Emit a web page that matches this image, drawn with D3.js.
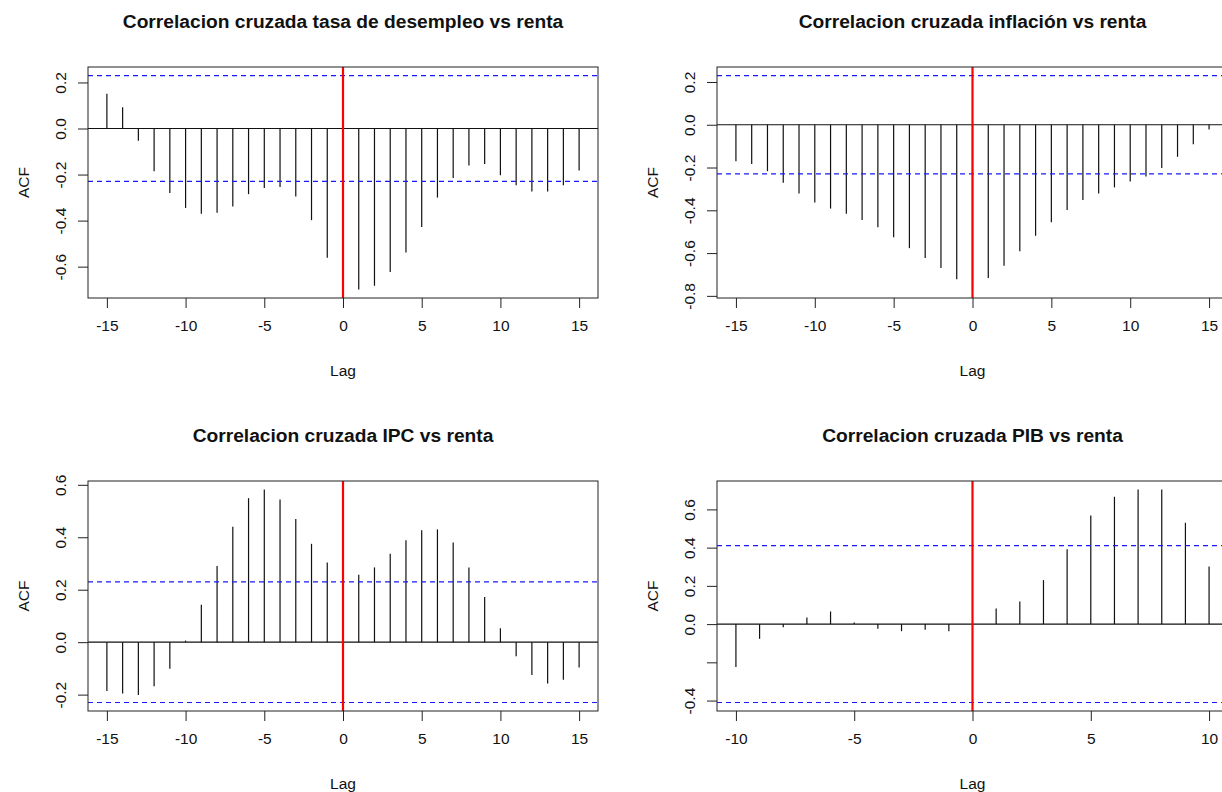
<!DOCTYPE html>
<html>
<head>
    <title>Correlacion cruzada vs renta</title>
    <script src="https://cdnjs.cloudflare.com/ajax/libs/d3/7.8.5/d3.min.js"></script>
    <style>
        body {
            margin: 0;
            background-color: white;
            font-family: "Liberation Sans", Arial, sans-serif;
        }
        svg {
            display: block;
            overflow: hidden;
        }
        .box {
            fill: none;
            stroke: #222;
            stroke-width: 1px;
        }
        .axis path {
            display: none;
        }
        .axis line {
            stroke: #222;
        }
        .axis text {
            font-family: "Liberation Sans", Arial, sans-serif;
            font-size: 15.5px;
            fill: #111;
        }
        .title {
            font-size: 19.2px;
            font-weight: bold;
            fill: #111;
            text-anchor: middle;
        }
        .label {
            font-size: 15.5px;
            fill: #111;
            text-anchor: middle;
        }
    </style>
</head>
<body>
    <div id="chart"></div>

    <script>
        // Lags
        const lags15 = [-15, -14, -13, -12, -11, -10, -9, -8, -7, -6, -5, -4, -3, -2, -1, 0,
                        1, 2, 3, 4, 5, 6, 7, 8, 9, 10, 11, 12, 13, 14, 15];
        const lags10 = [-10, -9, -8, -7, -6, -5, -4, -3, -2, -1, 0, 1, 2, 3, 4, 5, 6, 7, 8, 9, 10];

        // Cross-correlation values
        const desempleoRenta = [0.151, 0.092, -0.053, -0.186, -0.280, -0.345, -0.370, -0.366, -0.339, -0.285,
                                -0.258, -0.254, -0.295, -0.398, -0.561, -0.650, -0.699, -0.683, -0.623, -0.538,
                                -0.428, -0.300, -0.215, -0.161, -0.154, -0.203, -0.246, -0.274, -0.274, -0.246, -0.182];
        const inflacionRenta = [-0.171, -0.183, -0.217, -0.271, -0.322, -0.364, -0.392, -0.416, -0.445, -0.479,
                                -0.526, -0.577, -0.623, -0.670, -0.722, -0.770, -0.716, -0.659, -0.591, -0.519,
                                -0.456, -0.398, -0.352, -0.322, -0.293, -0.265, -0.242, -0.202, -0.150, -0.091, -0.022];
        const ipcRenta = [-0.186, -0.196, -0.201, -0.168, -0.101, 0.006, 0.143, 0.290, 0.440, 0.549,
                          0.582, 0.544, 0.470, 0.375, 0.304, 0.250, 0.257, 0.285, 0.337, 0.389,
                          0.427, 0.430, 0.380, 0.285, 0.172, 0.053, -0.054, -0.125, -0.158, -0.143, -0.097];
        const pibRenta = [-0.225, -0.077, -0.016, 0.035, 0.066, 0.009, -0.024, -0.037, -0.030, -0.037,
                          0.000, 0.082, 0.118, 0.230, 0.392, 0.568, 0.666, 0.704, 0.704, 0.530, 0.301];

        // Confidence bounds (blue dashed)
        const ciBounds = [0.23, 0.23, 0.23, 0.41];

        const titles = [
            "Correlacion cruzada tasa de desempleo vs renta",
            "Correlacion cruzada inflación vs renta",
            "Correlacion cruzada IPC vs renta",
            "Correlacion cruzada PIB vs renta"
        ];

        // Tick labels
        const xTicks15 = [-15, -10, -5, 0, 5, 10, 15];
        const xTicks10 = [-10, -5, 0, 5, 10];
        const yTicks = [
            [-0.6, -0.4, -0.2, 0.0, 0.2],
            [-0.8, -0.6, -0.4, -0.2, 0.0, 0.2],
            [-0.2, 0.0, 0.2, 0.4, 0.6],
            [-0.4, -0.2, 0.0, 0.2, 0.4, 0.6]
        ];
        // R drops the -0.2 label on the PIB panel (overlap)
        const yHidden = [[], [], [], [-0.2]];

        const width = 1222;
        const height = 792;

        // plot boxes: [left, right, top, bottom]
        const boxes = [
            [88, 598, 67, 298],
            [717, 1228, 67, 298],
            [88, 598, 481, 711],
            [717, 1228, 481, 711]
        ];

        const panels = [
            {lags: lags15, values: desempleoRenta, xTicks: xTicks15},
            {lags: lags15, values: inflacionRenta, xTicks: xTicks15},
            {lags: lags15, values: ipcRenta, xTicks: xTicks15},
            {lags: lags10, values: pibRenta, xTicks: xTicks10}
        ];

        const svg = d3.select("#chart")
            .append("svg")
            .attr("width", width)
            .attr("height", height);

        // R style range extension (4% each side)
        function extend(lo, hi) {
            const pad = (hi - lo) * 0.04;
            return [lo - pad, hi + pad];
        }

        const fmt = v => v.toFixed(1);

        panels.forEach(function(p, i) {
            const [left, right, top, bottom] = boxes[i];
            const ci = ciBounds[i];
            const g = svg.append("g");

            const x = d3.scaleLinear()
                .domain(extend(d3.min(p.lags), d3.max(p.lags)))
                .range([left, right]);

            const y = d3.scaleLinear()
                .domain(extend(Math.min(d3.min(p.values), -ci), Math.max(d3.max(p.values), ci)))
                .range([bottom, top]);

            // zero line
            g.append("line")
                .attr("x1", left).attr("x2", right)
                .attr("y1", y(0)).attr("y2", y(0))
                .attr("stroke", "#111")
                .attr("stroke-width", 1.2);

            // stems
            g.selectAll(".stem")
                .data(p.values)
                .enter()
                .append("line")
                .attr("class", "stem")
                .attr("x1", (d, k) => x(p.lags[k]))
                .attr("x2", (d, k) => x(p.lags[k]))
                .attr("y1", y(0))
                .attr("y2", d => y(d))
                .attr("stroke", "#111")
                .attr("stroke-width", 1.2);

            // confidence bounds
            [ci, -ci].forEach(function(c) {
                g.append("line")
                    .attr("x1", left).attr("x2", right)
                    .attr("y1", y(c)).attr("y2", y(c))
                    .attr("stroke", "#1a1aff")
                    .attr("stroke-width", 1.2)
                    .attr("stroke-dasharray", "5,4");
            });

            // red line at lag 0
            g.append("line")
                .attr("x1", x(0)).attr("x2", x(0))
                .attr("y1", top).attr("y2", bottom)
                .attr("stroke", "#ff0000")
                .attr("stroke-width", 2.2);

            // frame
            g.append("rect")
                .attr("class", "box")
                .attr("x", left)
                .attr("y", top)
                .attr("width", right - left)
                .attr("height", bottom - top);

            // x axis
            g.append("g")
                .attr("class", "axis")
                .attr("transform", `translate(0,${bottom})`)
                .call(d3.axisBottom(x).tickValues(p.xTicks).tickSize(10).tickPadding(12).tickFormat(d => String(d)));

            // y axis, labels rotated like R
            const yAxis = g.append("g")
                .attr("class", "axis")
                .attr("transform", `translate(${left},0)`)
                .call(d3.axisLeft(y).tickValues(yTicks[i]).tickSize(10)
                    .tickFormat(d => yHidden[i].some(h => Math.abs(h - d) < 1e-9) ? "" : fmt(d)));

            yAxis.selectAll("text")
                .attr("x", null)
                .attr("y", null)
                .attr("dy", null)
                .attr("text-anchor", "middle")
                .attr("dominant-baseline", "central")
                .attr("transform", "translate(-28,0) rotate(-90)");

            // titles and axis labels
            g.append("text")
                .attr("class", "title")
                .attr("x", (left + right) / 2)
                .attr("y", top - 39.5)
                .text(titles[i]);

            g.append("text")
                .attr("class", "label")
                .attr("x", (left + right) / 2)
                .attr("y", bottom + 72)
                .attr("dominant-baseline", "central")
                .text("Lag");

            g.append("text")
                .attr("class", "label")
                .attr("transform", `translate(${left - 65},${(top + bottom) / 2}) rotate(-90)`)
                .attr("dominant-baseline", "central")
                .text("ACF");
        });
    </script>
</body>
</html>
